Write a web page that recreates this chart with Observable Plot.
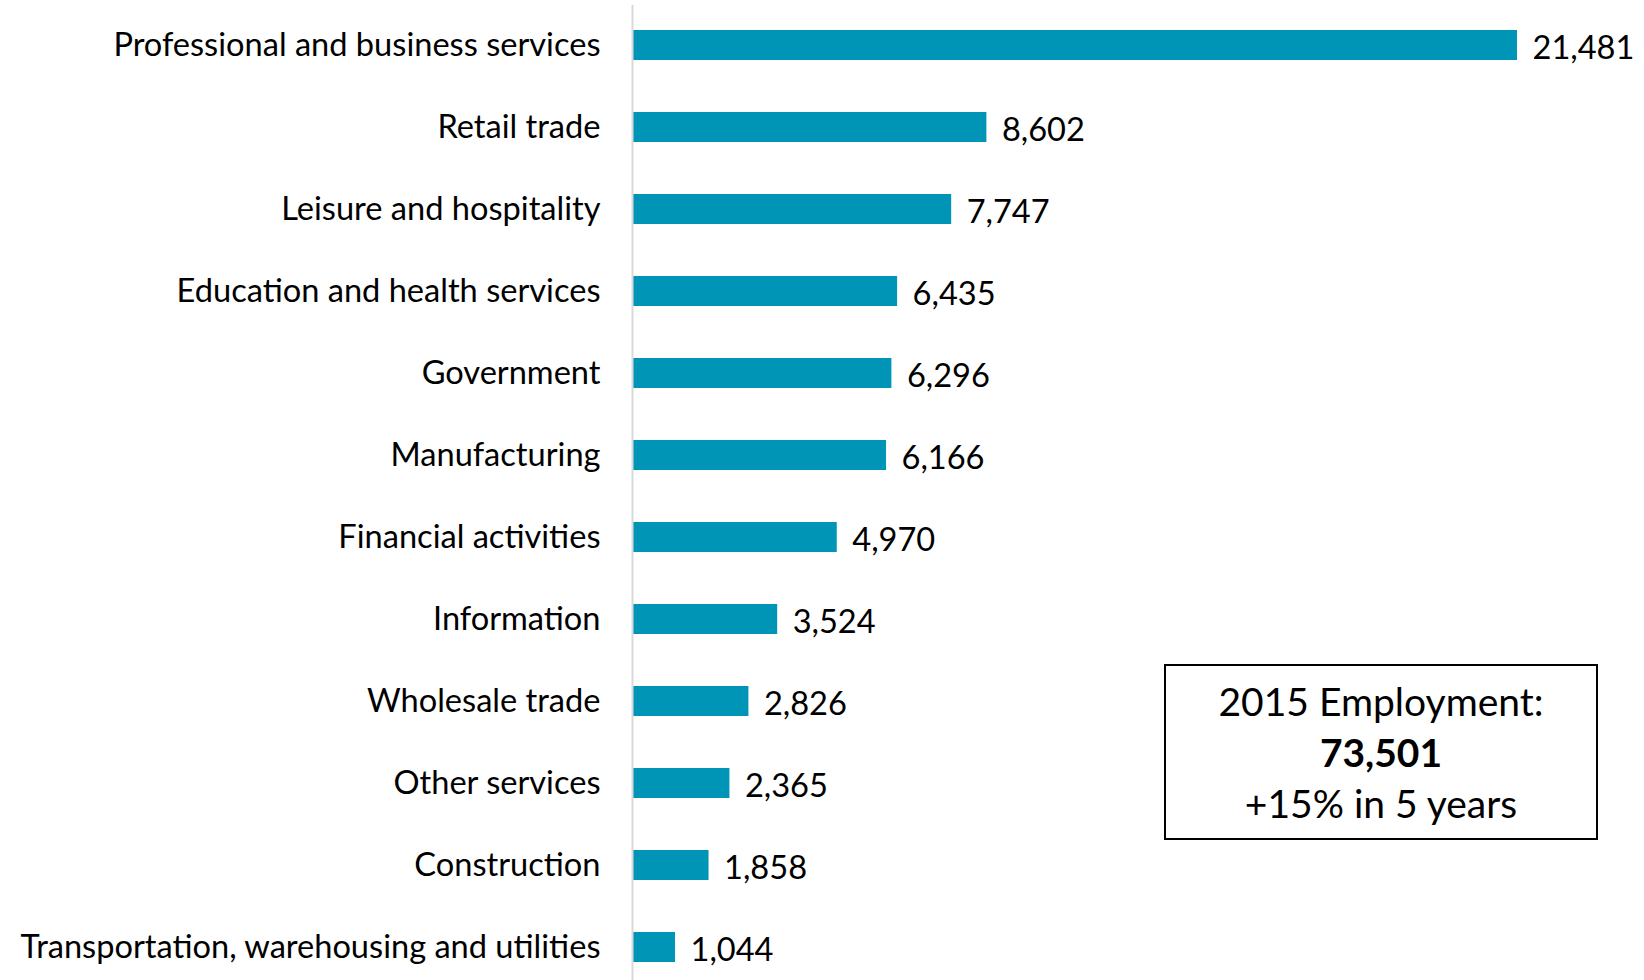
<!DOCTYPE html>
<html><head><meta charset="utf-8">
<script src="https://cdn.jsdelivr.net/npm/d3@7"></script>
<script src="https://cdn.jsdelivr.net/npm/@observablehq/plot@0.6"></script>
<style>
body{margin:0;background:#fff;font-family:Lato,sans-serif;}
#wrap{position:relative;width:1644px;height:980px;}
#box{position:absolute;left:1164px;top:664px;width:430px;height:172px;border:2px solid #000;box-sizing:content-box;text-align:center;font-size:39px;line-height:51px;color:#000;}
#box .l1{margin-top:10px;}
</style></head>
<body><div id="wrap"></div>
<script>
const industries = ["Professional and business services","Retail trade","Leisure and hospitality","Education and health services","Government","Manufacturing","Financial activities","Information","Wholesale trade","Other services","Construction","Transportation, warehousing and utilities"];
const employment = [21481,8602,7747,6435,6296,6166,4970,3524,2826,2365,1858,1044];
const boxLines = ["2015 Employment:","73,501","+15% in 5 years"];

const data = industries.map((name,i)=>({name, value: employment[i]}));
const fmt = d3.format(",");
const chart = Plot.plot({
  width:1644, height:980,
  marginLeft:632, marginRight:127, marginTop:12, marginBottom:0,
  style:{fontFamily:"Lato, sans-serif", fontSize:"32.6px", color:"#000", background:"#fff"},
  x:{domain:[0,21481], axis:null},
  y:{domain:industries, paddingInner:0.64, paddingOuter:0.2, label:null, axis:null},
  marks:[
    Plot.barX(data,{x:"value", y:"name", fill:"#0095B6"}),
    Plot.ruleX([0],{stroke:"#d9d9d9", strokeWidth:2, insetTop:-7, insetBottom:0}),
    Plot.text(data,{x:"value", y:"name", text:d=>fmt(d.value), textAnchor:"start", dx:15, dy:3, fontSize:32.6, fill:"#000"}),
    Plot.axisY({tickSize:0, tickPadding:32, fontSize:32.6, fill:"#000", label:null})
  ]
});
const wrap = document.getElementById("wrap");
wrap.appendChild(chart);
const box = document.createElement("div");
box.id="box";
box.innerHTML = `<div class="l1">${boxLines[0]}</div><div style="font-weight:bold">${boxLines[1]}</div><div>${boxLines[2]}</div>`;
wrap.appendChild(box);
</script></body></html>
